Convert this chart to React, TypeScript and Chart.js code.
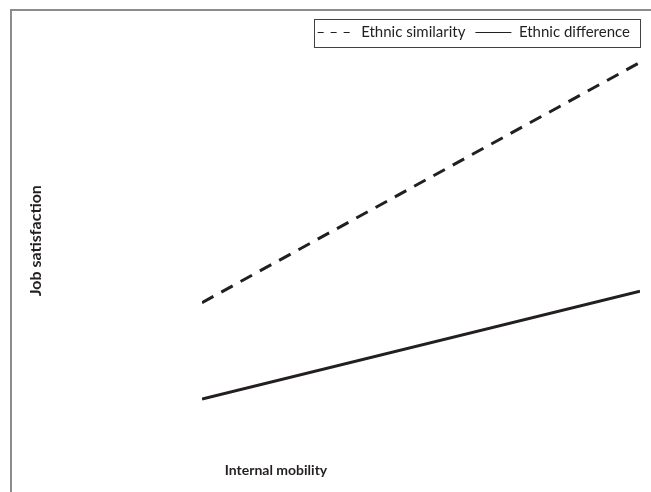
import React, { useEffect, useRef } from "react";
import { Chart, registerables } from "chart.js";

Chart.register(...registerables);

// ---- data ----
const mobilityLevels = [0, 1]; // low, high internal mobility
const similarityValues = [2.35, 4.87];
const differenceValues = [1.34, 2.47];
const seriesLabels = ["Ethnic similarity", "Ethnic difference"];
const xTitle = "Internal mobility";
const yTitle = "Job satisfaction";
const yMin = 1;
const yMax = 5;

const INK = "#231f20";
const FONT = "Lato, 'Open Sans', sans-serif";

const legendBorder = {
  id: "legendBorder",
  afterDraw(chart: any) {
    const boxes = chart.legend && chart.legend.legendHitBoxes;
    if (!boxes || !boxes.length) return;
    const left = Math.min(...boxes.map((b: any) => b.left)) - 4;
    const right = Math.max(...boxes.map((b: any) => b.left + b.width)) + 10;
    const top = Math.min(...boxes.map((b: any) => b.top)) - 6;
    const bottom = Math.max(...boxes.map((b: any) => b.top + b.height)) + 7;
    const ctx = chart.ctx;
    ctx.save();
    ctx.strokeStyle = "#404040";
    ctx.lineWidth = 1;
    ctx.setLineDash([]);
    ctx.strokeRect(Math.round(left) + 0.5, Math.round(top) + 0.5, Math.round(right - left), Math.round(bottom - top));
    ctx.restore();
  },
};

export default function App() {
  const ref = useRef<HTMLCanvasElement | null>(null);

  useEffect(() => {
    if (!ref.current) return;
    const chart = new Chart(ref.current, {
      type: "line",
      data: {
        datasets: [
          {
            label: seriesLabels[0],
            data: mobilityLevels.map((x, i) => ({ x, y: similarityValues[i] })),
            borderColor: INK,
            backgroundColor: INK,
            borderWidth: 3,
            borderDash: [13, 9],
            pointRadius: 0,
            fill: false,
          },
          {
            label: seriesLabels[1],
            data: mobilityLevels.map((x, i) => ({ x, y: differenceValues[i] })),
            borderColor: INK,
            backgroundColor: INK,
            borderWidth: 3,
            pointRadius: 0,
            fill: false,
          },
        ],
      },
      options: {
        responsive: false,
        animation: false,
        layout: { padding: { top: 4, right: 11, left: 0, bottom: 0 } },
        scales: {
          x: { type: "linear", min: 0, max: 1, display: false },
          y: {
            type: "linear",
            min: yMin,
            max: yMax,
            grid: { display: false, drawTicks: false },
            border: { display: false },
            ticks: { display: false },
            title: {
              display: true,
              text: yTitle,
              color: INK,
              font: { family: FONT, size: 16, weight: "bold" },
              padding: { top: 114.4, bottom: 156.4 },
            },
          },
        },
        plugins: {
          tooltip: { enabled: false },
          title: {
            display: true,
            text: xTitle,
            position: "bottom",
            color: INK,
            font: { family: FONT, size: 14, weight: "bold" },
            padding: { top: 30.2, bottom: 13.6 },
          },
          legend: {
            position: "top",
            align: "end",
            labels: {
              color: INK,
              font: { family: FONT, size: 15 },
              usePointStyle: true,
              pointStyle: "line",
              pointStyleWidth: 36,
              padding: 10,
              generateLabels: (c: any) =>
                c.data.datasets.map((ds: any, i: number) => ({
                  text: ds.label,
                  fillStyle: INK,
                  strokeStyle: INK,
                  fontColor: INK,
                  lineWidth: 1.2,
                  lineDash: i === 0 ? [6, 7] : [],
                  pointStyle: "line",
                  datasetIndex: i,
                  hidden: false,
                })),
            },
          },
        },
      },
      plugins: [legendBorder],
    } as any);
    return () => chart.destroy();
  }, []);

  return (
    <div style={{ position: "absolute", left: 0, top: 0, width: 651, height: 492, overflow: "hidden", background: "#fff" }}>
      <div
        style={{
          position: "absolute",
          left: 10,
          top: 9,
          width: 641,
          height: 483,
          boxSizing: "border-box",
          borderTop: "2px solid #8c8c8c",
          borderLeft: "2px solid #8c8c8c",
        }}
      />
      <canvas ref={ref} width={739} height={481} style={{ position: "absolute", left: -88, top: 11, width: 739, height: 481 }} />
    </div>
  );
}
